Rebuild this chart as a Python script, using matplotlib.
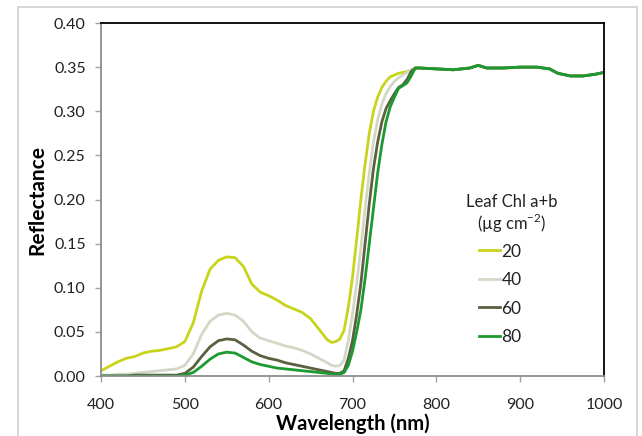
import numpy as np
import matplotlib
matplotlib.use("Agg")
import matplotlib.pyplot as plt
from matplotlib.patches import Rectangle

# Wavelength grid for visible / red-edge region (nm)
wl_vis = [400, 410, 420, 430, 440, 450, 460, 470, 480, 490,
          500, 510, 520, 530, 540, 550, 560, 570, 580, 590,
          600, 610, 620, 630, 640, 650, 660, 670, 675, 680,
          685, 690, 695, 700, 705, 710, 715, 720, 725, 730,
          735, 740, 745, 750, 755, 760, 765, 770, 775]

chl20 = [0.006, 0.011, 0.016, 0.020, 0.022, 0.026, 0.028, 0.029, 0.031, 0.033,
         0.039, 0.060, 0.096, 0.121, 0.131, 0.135, 0.134, 0.124, 0.104, 0.095,
         0.091, 0.086, 0.080, 0.076, 0.072, 0.065, 0.053, 0.041, 0.038, 0.039,
         0.042, 0.052, 0.078, 0.112, 0.155, 0.200, 0.240, 0.275, 0.300, 0.316,
         0.327, 0.334, 0.339, 0.341, 0.343, 0.344, 0.345, 0.347, 0.349]

chl40 = [0.001, 0.001, 0.002, 0.002, 0.003, 0.004, 0.005, 0.006, 0.007, 0.008,
         0.012, 0.025, 0.047, 0.062, 0.069, 0.071, 0.069, 0.062, 0.050, 0.043,
         0.040, 0.037, 0.034, 0.032, 0.029, 0.025, 0.020, 0.015, 0.012, 0.011,
         0.012, 0.018, 0.040, 0.070, 0.105, 0.145, 0.190, 0.230, 0.265, 0.290,
         0.308, 0.320, 0.328, 0.334, 0.338, 0.341, 0.344, 0.347, 0.349]

chl60 = [0.000, 0.000, 0.000, 0.000, 0.001, 0.001, 0.001, 0.001, 0.001, 0.001,
         0.003, 0.010, 0.022, 0.033, 0.040, 0.042, 0.041, 0.035, 0.028, 0.023,
         0.020, 0.018, 0.015, 0.013, 0.011, 0.009, 0.007, 0.005, 0.004, 0.003,
         0.003, 0.006, 0.020, 0.040, 0.070, 0.105, 0.150, 0.195, 0.235, 0.265,
         0.288, 0.303, 0.312, 0.320, 0.327, 0.330, 0.336, 0.345, 0.349]

chl80 = [0.000, 0.000, 0.000, 0.000, 0.000, 0.000, 0.000, 0.000, 0.000, 0.000,
         0.001, 0.004, 0.011, 0.019, 0.025, 0.027, 0.026, 0.021, 0.016, 0.013,
         0.011, 0.009, 0.008, 0.007, 0.006, 0.005, 0.004, 0.003, 0.002, 0.002,
         0.002, 0.004, 0.012, 0.028, 0.050, 0.075, 0.110, 0.150, 0.190, 0.230,
         0.262, 0.288, 0.305, 0.316, 0.326, 0.329, 0.332, 0.340, 0.349]

# NIR plateau shared by all leaves (nm, reflectance)
wl_nir = [780, 800, 820, 840, 850, 860, 880, 900, 920, 935, 945, 960, 975, 990, 1000]
nir = [0.349, 0.348, 0.347, 0.349, 0.352, 0.349, 0.349, 0.350, 0.350, 0.348,
       0.343, 0.340, 0.340, 0.342, 0.344]

labels = ["20", "40", "60", "80"]
colors = ["#c8d41c", "#d3d8c6", "#5c5f40", "#1b9a30"]
series = [chl20, chl40, chl60, chl80]

plt.rcParams['font.family'] = ['Lato', 'DejaVu Sans']

fig = plt.figure(figsize=(6.42, 4.36), dpi=100)
ax = fig.add_axes([101/642, 1-376/436, 503/642, 353/436])

# light outer frame like the chart area border
fig.patches.append(Rectangle((18/642, -0.01), 619/642, 1-7/436+0.01,
                             transform=fig.transFigure, fill=False,
                             edgecolor="#d0d0d0", linewidth=1.2))

wl_all = list(wl_vis) + list(wl_nir)
for lab, col, s in zip(labels, colors, series):
    ax.plot(wl_all, list(s) + list(nir), color=col, linewidth=2.0, label=lab,
            solid_joinstyle="round")

ax.set_xlim(400, 1000)
ax.set_ylim(0, 0.40)
ax.set_xticks(np.arange(400, 1001, 100))
ax.set_yticks(np.arange(0, 0.401, 0.05))
ax.set_yticklabels([f"{v:.2f}" for v in np.arange(0, 0.401, 0.05)])

for side in ["top", "right"]:
    ax.spines[side].set_color("black")
    ax.spines[side].set_linewidth(1.3)
for side in ["left", "bottom"]:
    ax.spines[side].set_color("#8c8c8c")
    ax.spines[side].set_linewidth(1.3)
ax.tick_params(axis="both", direction="out", length=4, width=1, color="#a0a0a0",
               labelsize=11.5, labelcolor="#222222")
ax.tick_params(axis="x", pad=12)
ax.tick_params(axis="y", pad=7)

ax.set_xlabel("Wavelength (nm)", fontsize=14.5, fontweight="bold", labelpad=1)
ax.set_ylabel("Reflectance", fontsize=15, fontweight="bold", labelpad=5)

# legend title drawn as its own text (offset to the right of the entries)
ax.text(0.8175, 1-(202-23)/353, "Leaf Chl a+b", transform=ax.transAxes,
        ha="center", va="center", fontsize=12, color="#222222")
ax.text(0.8175, 1-(223-23)/353, "(µg cm$^{\\mathregular{-2}}$)", transform=ax.transAxes,
        ha="center", va="center", fontsize=12, color="#222222")

leg = ax.legend(frameon=False, loc="upper left", bbox_to_anchor=(0.738, 0.395),
                fontsize=12.5, handlelength=1.2, handletextpad=0.08,
                labelspacing=0.72, borderpad=0.4, borderaxespad=0)
for t in leg.get_texts():
    t.set_color("#222222")

fig.savefig("out.png", dpi=100)
